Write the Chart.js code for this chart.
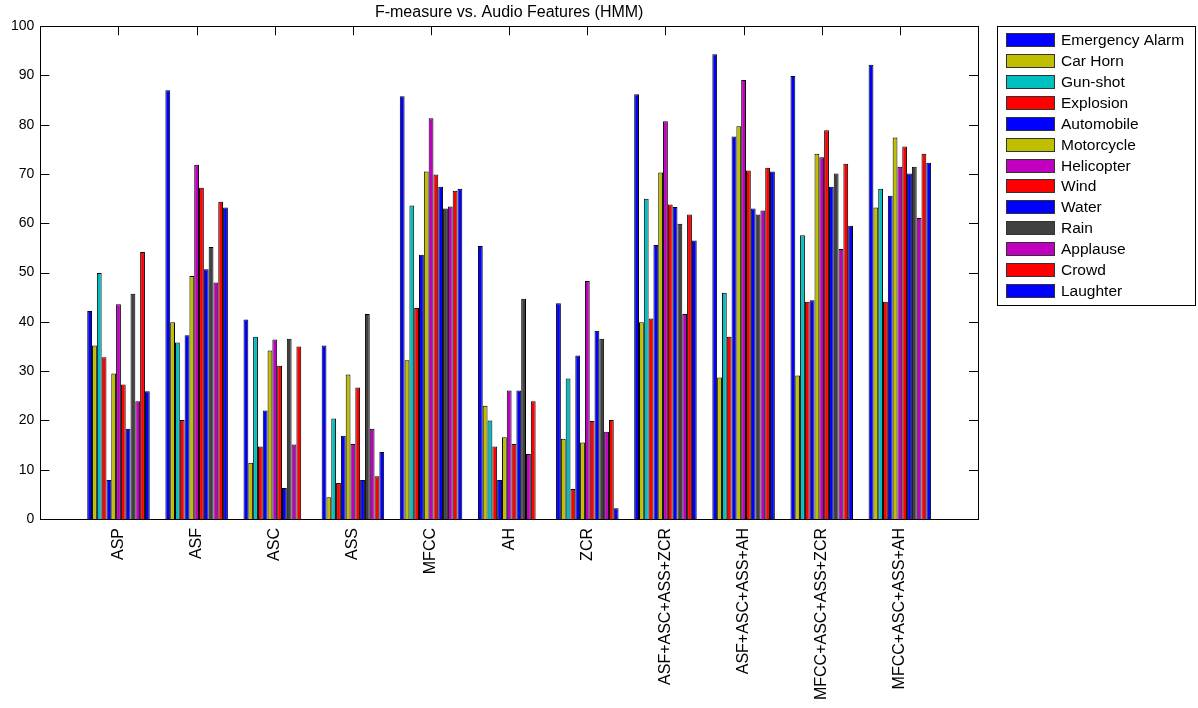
<!DOCTYPE html>
<html>
<head>
<meta charset="utf-8">
<title>F-measure vs. Audio Features (HMM)</title>
<script src="https://cdn.jsdelivr.net/npm/chart.js@4.4.1/dist/chart.umd.min.js"></script>
<style>
  html, body { margin: 0; padding: 0; background: #fff; }
  #wrap { width: 1198px; height: 708px; }
</style>
</head>
<body>
<div id="wrap"><canvas id="fmeasureChart"></canvas></div>
<script>
const ctx = document.getElementById('fmeasureChart').getContext('2d');

// feature sets on the x axis
const features = ['ASP', 'ASF', 'ASC', 'ASS', 'MFCC', 'AH', 'ZCR',
  'ASF+ASC+ASS+ZCR', 'ASF+ASC+ASS+AH', 'MFCC+ASC+ASS+ZCR', 'MFCC+ASC+ASS+AH'];

const classNames = ['Emergency Alarm', 'Car Horn', 'Gun-shot', 'Explosion', 'Automobile',
  'Motorcycle', 'Helicopter', 'Wind', 'Water', 'Rain', 'Applause', 'Crowd', 'Laughter'];

const yTicks = [0, 10, 20, 30, 40, 50, 60, 70, 80, 90, 100];

// F-measure (%) for each sound class, one value per feature set
const emergencyAlarm = [42.2, 87.0, 40.5, 35.2, 85.8, 55.4, 43.8, 86.2, 94.3, 89.9, 92.2];
const carHorn        = [35.2, 39.9, 11.4, 4.4, 32.2, 23.0, 16.3, 39.9, 28.7, 29.1, 63.2];
const gunShot        = [49.9, 35.8, 37.0, 20.4, 63.6, 20.0, 28.5, 65.0, 45.9, 57.6, 67.0];
const explosion      = [32.8, 20.1, 14.7, 7.3, 42.8, 14.7, 6.1, 40.7, 37.0, 44.1, 44.1];
const automobile     = [7.9, 37.3, 22.0, 16.9, 53.6, 7.9, 33.2, 55.6, 77.6, 44.4, 65.6];
const motorcycle     = [29.5, 49.3, 34.2, 29.3, 70.5, 16.6, 15.5, 70.3, 79.7, 74.1, 77.4];
const helicopter     = [43.6, 71.9, 36.4, 15.2, 81.3, 26.1, 48.3, 80.7, 89.1, 73.4, 71.5];
const wind           = [27.3, 67.2, 31.1, 26.7, 69.9, 15.2, 19.9, 63.8, 70.7, 78.9, 75.6];
const water          = [18.3, 50.7, 6.3, 7.9, 67.4, 26.1, 38.2, 63.3, 63.0, 67.4, 70.1];
const rain           = [45.7, 55.2, 36.6, 41.6, 63.0, 44.7, 36.6, 59.9, 61.8, 70.1, 71.5];
const applause       = [23.9, 48.0, 15.1, 18.3, 63.4, 13.2, 17.7, 41.6, 62.6, 54.8, 61.1];
const crowd          = [54.2, 64.4, 35.0, 8.7, 66.6, 23.9, 20.1, 61.8, 71.3, 72.1, 74.1];
const laughter       = [25.9, 63.2, 0, 13.6, 67.0, 0, 2.2, 56.5, 70.5, 59.5, 72.3];

const series = [emergencyAlarm, carHorn, gunShot, explosion, automobile, motorcycle,
  helicopter, wind, water, rain, applause, crowd, laughter];

// matlab-ish colour cycle
const BLUE = '#0000ff', OLIVE = '#bfbf00', CYAN = '#00bfbf', RED = '#ff0000',
  MAGENTA = '#bf00bf', DARK = '#404040';
const classColors = [BLUE, OLIVE, CYAN, RED, BLUE, OLIVE, MAGENTA, RED, BLUE, DARK, MAGENTA, RED, BLUE];

// empty slot on each side, like the matlab axis from 0 to 12
const labels = [''].concat(features, ['']);

const datasets = series.map((values, i) => ({
  label: classNames[i],
  data: [null].concat(values, [null]),
  backgroundColor: classColors[i],
  borderColor: '#000',
  borderWidth: 1,
  borderSkipped: 'start',
  categoryPercentage: 0.8,
  barPercentage: 1.0,
}));

// box round the plot and inward tick marks
const axesBox = {
  id: 'axesBox',
  beforeDatasetsDraw(chart) {
    const { ctx, chartArea: a, scales } = chart;
    ctx.save();
    ctx.strokeStyle = '#000';
    ctx.lineWidth = 1;
    ctx.beginPath();
    yTicks.forEach((v) => {
      const y = Math.round(scales.y.getPixelForValue(v)) + 0.5;
      ctx.moveTo(a.left, y); ctx.lineTo(a.left + 9, y);
      ctx.moveTo(a.right, y); ctx.lineTo(a.right - 9, y);
    });
    features.forEach((f, i) => {
      const x = Math.round(scales.x.getPixelForValue(i + 1)) + 0.5;
      ctx.moveTo(x, a.top); ctx.lineTo(x, a.top + 9);
      ctx.moveTo(x, a.bottom); ctx.lineTo(x, a.bottom - 9);
    });
    ctx.stroke();
    ctx.restore();
  },
  afterDatasetsDraw(chart) {
    const { ctx, chartArea: a } = chart;
    ctx.save();
    ctx.strokeStyle = '#000';
    ctx.lineWidth = 1;
    ctx.strokeRect(Math.round(a.left) + 0.5, Math.round(a.top) + 0.5,
      Math.round(a.right - a.left), Math.round(a.bottom - a.top));
    ctx.restore();
  },
};

// legend in a bordered box right of the plot
const boxLegend = {
  id: 'boxLegend',
  afterDraw(chart) {
    const { ctx, chartArea: a } = chart;
    const left = Math.round(a.right) + 19;
    const top = Math.round(a.top);
    const rowH = 20.92;
    ctx.save();
    ctx.fillStyle = '#fff';
    ctx.strokeStyle = '#000';
    ctx.lineWidth = 1;
    ctx.fillRect(left, top, 198, 279);
    ctx.strokeRect(left + 0.5, top + 0.5, 198, 279);
    ctx.font = '15.5px "Liberation Sans", Arial, sans-serif';
    ctx.textBaseline = 'middle';
    chart.data.datasets.forEach((ds, i) => {
      const y = Math.round(top + 7 + i * rowH);
      ctx.fillStyle = ds.backgroundColor;
      ctx.fillRect(left + 9, y, 49, 14);
      ctx.strokeStyle = '#333';
      ctx.strokeRect(left + 9.5, y + 0.5, 48, 13);
      ctx.fillStyle = '#000';
      ctx.fillText(ds.label, left + 64, y + 7.5);
    });
    ctx.restore();
  },
};

const fmeasureChart = new Chart(ctx, {
  type: 'bar',
  data: { labels: labels, datasets: datasets },
  plugins: [axesBox, boxLegend],
  options: {
    responsive: true,
    maintainAspectRatio: false,
    animation: false,
    layout: { padding: { left: 5, right: 220, top: 0, bottom: 0 } },
    plugins: {
      legend: { display: false },
      tooltip: { enabled: false },
      title: {
        display: true,
        text: 'F-measure vs. Audio Features (HMM)',
        fullSize: false,
        color: '#000',
        font: { family: '"Liberation Sans", Arial, sans-serif', size: 16, weight: 'normal' },
        padding: { top: 3, bottom: 4 },
      },
    },
    scales: {
      x: {
        offset: false,
        grid: { display: false },
        border: { display: false },
        afterFit(scale) { scale.height = 189; },
        ticks: {
          autoSkip: false,
          minRotation: 90,
          maxRotation: 90,
          padding: 1,
          color: '#000',
          font: { family: '"Liberation Sans", Arial, sans-serif', size: 16 },
        },
      },
      y: {
        min: 0,
        max: 100,
        grid: { display: false, drawTicks: false },
        border: { display: false },
        ticks: {
          stepSize: 10,
          padding: 6,
          color: '#000',
          font: { family: '"Liberation Sans", Arial, sans-serif', size: 14 },
        },
      },
    },
  },
});
</script>
</body>
</html>
